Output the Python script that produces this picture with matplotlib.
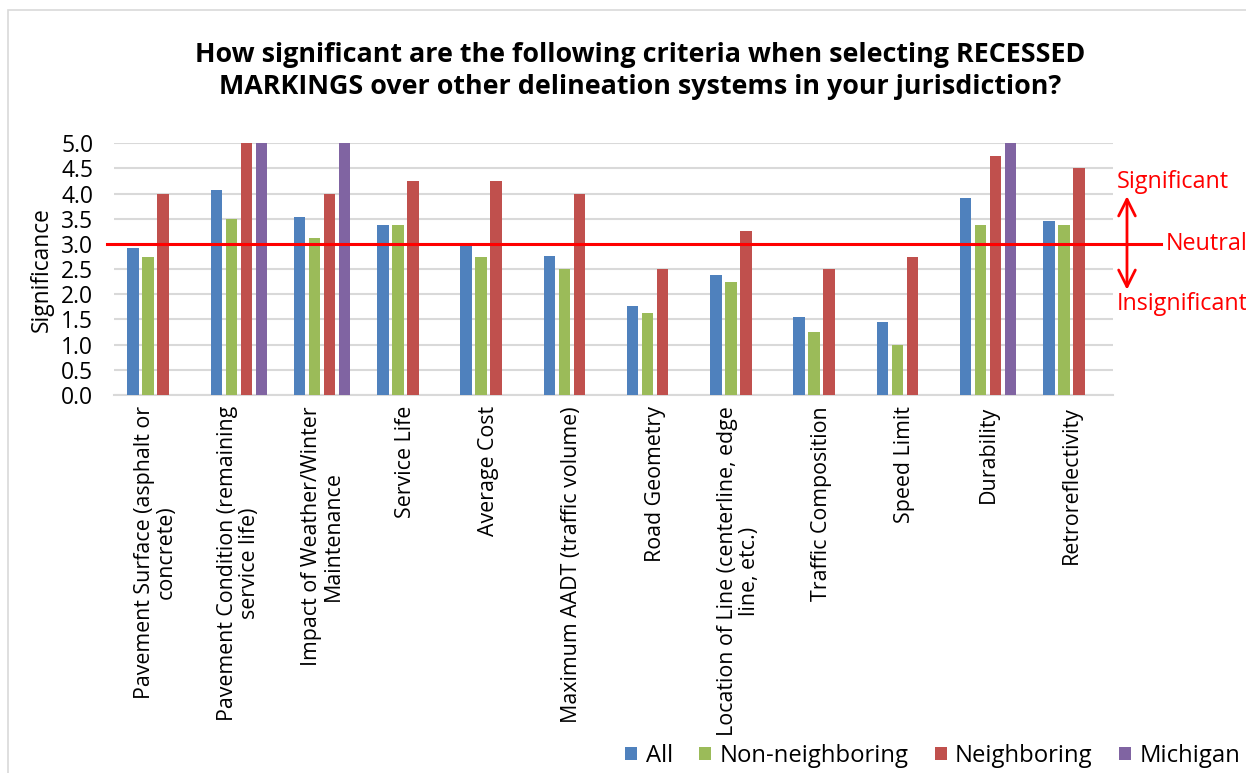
import numpy as np
import matplotlib
matplotlib.use("Agg")
import matplotlib.pyplot as plt
from matplotlib.patches import Rectangle

plt.rcParams['font.family'] = ['Open Sans', 'DejaVu Sans']

# Survey responses per criterion
criteria = [
    "Pavement Surface (asphalt or\nconcrete)",
    "Pavement Condition (remaining\nservice life)",
    "Impact of Weather/Winter\nMaintenance",
    "Service Life",
    "Average Cost",
    "Maximum AADT (traffic volume)",
    "Road Geometry",
    "Location of Line (centerline, edge\nline, etc.)",
    "Traffic Composition",
    "Speed Limit",
    "Durability",
    "Retroreflectivity",
]
all_resp = [2.92, 4.08, 3.54, 3.38, 3.00, 2.77, 1.77, 2.38, 1.54, 1.46, 3.92, 3.46]
non_neighboring = [2.75, 3.50, 3.125, 3.375, 2.75, 2.50, 1.625, 2.25, 1.25, 1.00, 3.375, 3.375]
neighboring = [4.00, 5.00, 4.00, 4.25, 4.25, 4.00, 2.50, 3.25, 2.50, 2.75, 4.75, 4.50]
michigan = [0, 5.0, 5.0, 0, 0, 0, 0, 0, 0, 0, 5.0, 0]

series = [
    ("All", all_resp, "#4F81BD"),
    ("Non-neighboring", non_neighboring, "#9BBB59"),
    ("Neighboring", neighboring, "#C0504D"),
    ("Michigan", michigan, "#8064A2"),
]
neutral = 3.0
yticks = np.arange(0, 5.01, 0.5)

W, H = 1246, 773
fig = plt.figure(figsize=(W / 100, H / 100), dpi=100)
fig.patches.append(Rectangle((8 / W, -0.1), 1.2, (H - 10) / H + 0.1, transform=fig.transFigure,
                             fill=False, edgecolor="#D9D9D9", linewidth=1.2))

ax = fig.add_axes([114 / W, 1 - 395 / H, 999 / W, (395 - 143.3) / H])

x = np.arange(len(criteria))
pitch = 0.18
width = 0.138
for i, (name, vals, color) in enumerate(series):
    ax.bar(x + (i - 1.5) * pitch, vals, width, color=color, label=name, zorder=3)

ax.set_xlim(-0.5, len(criteria) - 0.5)
ax.set_ylim(0, 5)
ax.set_yticks(yticks)
ax.set_yticklabels([f"{v:.1f}" for v in yticks], fontsize=16.5)
ax.set_xticks(x)
ax.set_xticklabels(criteria, rotation=90, fontsize=15.4, va="top", ha="center",
                   linespacing=1.05)
ax.tick_params(axis="x", length=0, pad=8)
ax.tick_params(axis="y", length=0, pad=15)
ax.grid(axis="y", color="#D9D9D9", linewidth=1.5, zorder=0)
for s in ["top", "right", "left"]:
    ax.spines[s].set_visible(False)
ax.spines["bottom"].set_color("#D9D9D9")
ax.spines["bottom"].set_linewidth(1.5)
ax.set_ylabel("Significance", fontsize=16.4, labelpad=5)

# neutral reference line and its annotations
tr = ax.get_yaxis_transform()
ax.plot([-0.007, 1.048], [neutral, neutral], color="#FF0000", linewidth=2.2,
        transform=tr, clip_on=False, zorder=5)
ax.text(1.053, neutral, "Neutral", color="#FF0000", fontsize=16.8, va="center", ha="left",
        transform=tr)
ax.text(1.004, 4.23, "Significant", color="#FF0000", fontsize=16.8, va="center", ha="left",
        transform=tr)
ax.text(1.004, 1.81, "Insignificant", color="#FF0000", fontsize=16.8, va="center", ha="left",
        transform=tr)
ax.annotate("", xy=(1.014, 3.95), xytext=(1.014, 2.09), xycoords=tr, textcoords=tr,
            arrowprops=dict(arrowstyle="<->,head_length=0.6,head_width=0.3",
                            color="#FF0000", lw=2, mutation_scale=20,
                            shrinkA=0, shrinkB=0),
            annotation_clip=False)

fig.text(640 / W, 1 - 71 / H,
         "How significant are the following criteria when selecting RECESSED\n"
         "MARKINGS over other delineation systems in your jurisdiction?",
         ha="center", va="center", fontsize=19.4, fontweight="bold", linespacing=1.3)

fig.legend(loc="center right", bbox_to_anchor=(1240 / W, 1 - 756 / H), ncol=4, frameon=False,
           fontsize=17.2, handlelength=0.5, handleheight=0.5, handletextpad=0.35,
           columnspacing=1.1, borderpad=0, borderaxespad=0)

fig.savefig("out.png", dpi=100)
